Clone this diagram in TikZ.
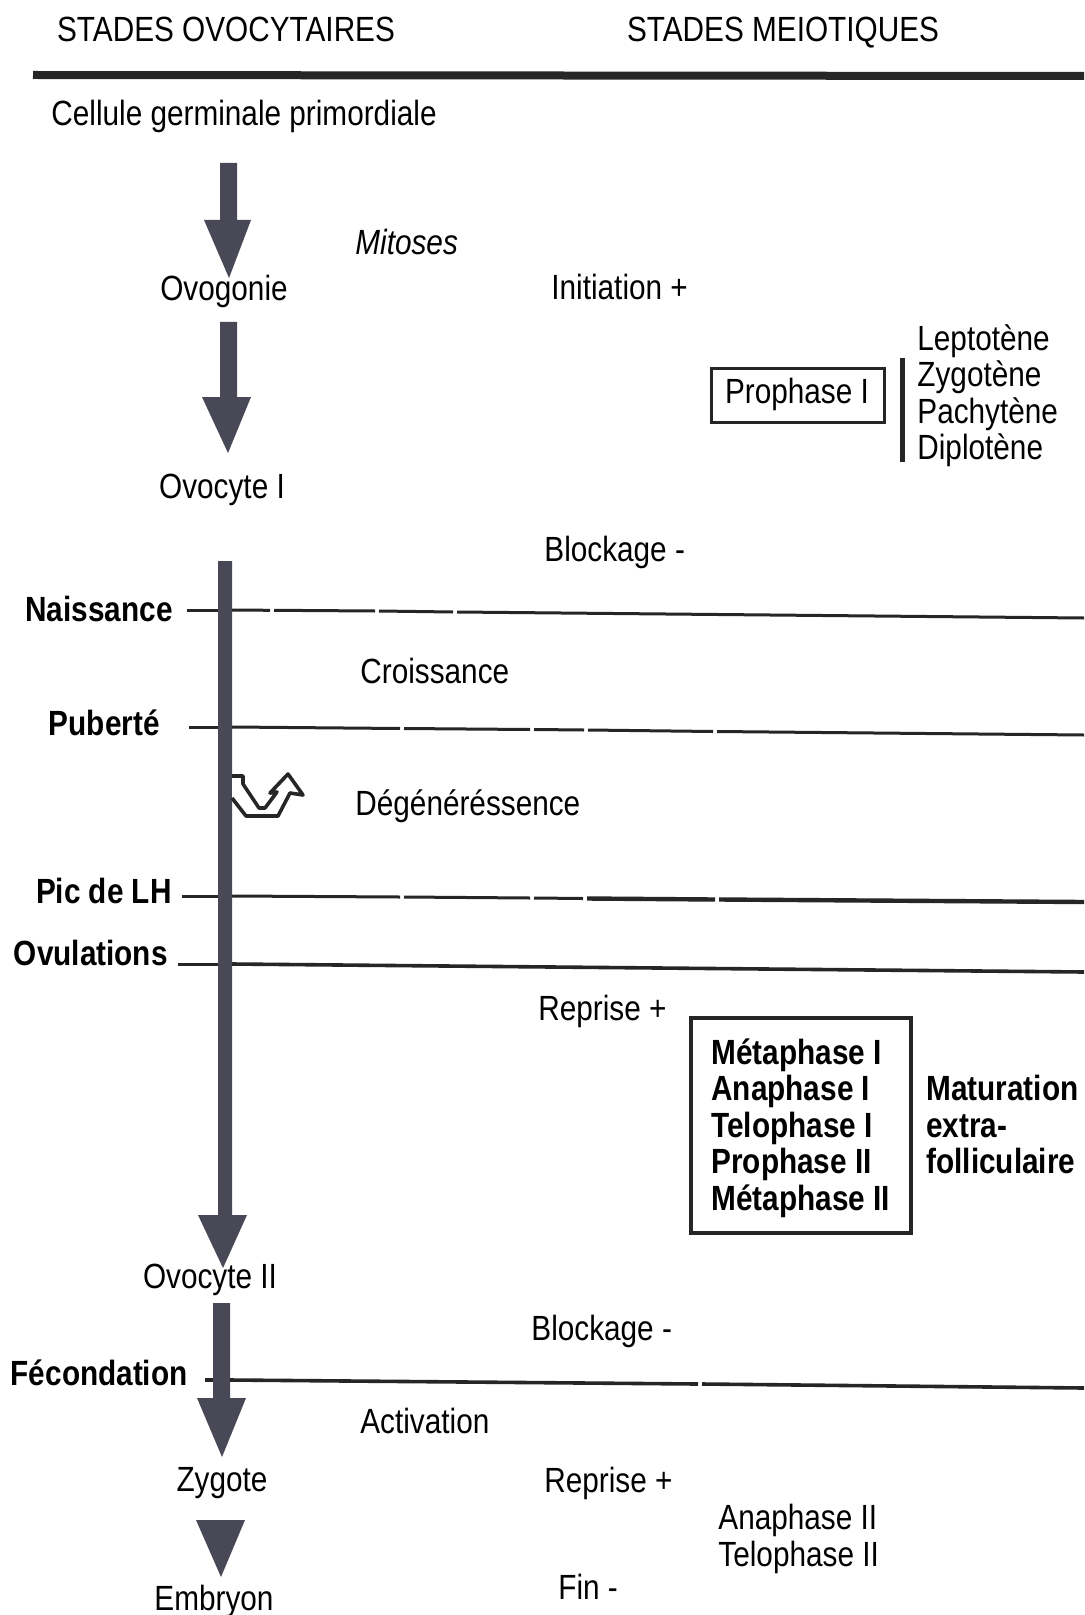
\documentclass[tikz,border=0pt]{standalone}
\usepackage{fontspec}
\setmainfont{Liberation Sans}[FakeStretch=0.85]
\begin{document}
\begin{tikzpicture}[x=0.5pt,y=-0.5pt,
  lab/.style={inner sep=0pt,font=\fontsize{17.5}{18.3}\selectfont},
  blab/.style={lab,font=\fontsize{17.5}{18.3}\selectfont\bfseries},
  tl/.style={line width=1.5pt,black!85},
  arr/.style={fill=arrowgray},
]
\definecolor{arrowgray}{RGB}{72,72,86}
\useasboundingbox (0,0) rectangle (1084,1615);
\fill[white] (0,0) rectangle (1084,1615);

% headers
\node[lab,anchor=mid] (h1) at (226,36) {STADES OVOCYTAIRES};
\node[lab,anchor=mid] (h2) at (783,36) {STADES MEIOTIQUES};
\draw[line width=4pt,black!85] (33,75) -- (1084,76);

% left column stages
\node[lab,anchor=mid west] (cgp) at (51,120) {Cellule germinale primordiale};
\node[lab,anchor=mid] (ovog) at (224,295) {Ovogonie};
\node[lab,anchor=mid] (ovo1) at (222,493) {Ovocyte I};
\node[lab,anchor=mid] (ovo2) at (210,1283) {Ovocyte II};
\node[lab,anchor=mid] (zyg) at (222,1486) {Zygote};
\node[lab,anchor=mid] (emb) at (214,1605) {Embryon};

% arrows
\fill[arr] (220,163) -- (237,163) -- (237,220) -- (251,220) -- (229,278) -- (204,220) -- (220,220) -- cycle;
\fill[arr] (220,322) -- (237,322) -- (237,397) -- (251,397) -- (228,453) -- (202,397) -- (220,397) -- cycle;
\fill[arr] (218,561) -- (232,561) -- (232,1215) -- (247,1215) -- (223,1268) -- (198,1215) -- (218,1215) -- cycle;
\fill[arr] (213,1303) -- (230,1303) -- (230,1398) -- (246,1398) -- (222,1457) -- (197,1398) -- (213,1398) -- cycle;
\fill[arr] (196,1520) -- (245,1520) -- (221,1577) -- cycle;

% timeline labels
\node[blab,anchor=mid east] (nai) at (173,616) {Naissance};
\node[blab,anchor=mid east] (pub) at (160,730) {Puberté};
\node[blab,anchor=mid east] (pic) at (172,898) {Pic de LH};
\node[blab,anchor=mid east] (ovu) at (168,960) {Ovulations};
\node[blab,anchor=mid east] (fec) at (188,1380) {Fécondation};

% timeline lines
\draw[tl] (187,610) -- (218,610);
\draw[tl] (232,610) -- (270,610.3);
\draw[tl] (274,610.3) -- (375,611);
\draw[tl] (379,611) -- (453,612);
\draw[tl] (457,612) -- (1084,618);

\draw[tl] (189,727) -- (218,727);
\draw[tl] (232,727) -- (400,728.5);
\draw[tl] (404,728.5) -- (530,729.5);
\draw[tl] (534,729.5) -- (584,730);
\draw[tl] (588,730) -- (713,731.5);
\draw[tl] (717,731.5) -- (1084,735);

\draw[tl] (182,896) -- (218,896);
\draw[tl] (232,896) -- (400,897);
\draw[tl] (404,897) -- (530,898);
\draw[tl] (534,898) -- (583,898.5);
\draw[tl,line width=2.2pt] (587,898.5) -- (715,899.5);
\draw[tl,line width=2.2pt] (719,899.5) -- (1084,902);

\draw[tl] (178,964) -- (218,964);
\draw[tl,line width=1.8pt] (232,964) -- (1084,972);

\draw[tl,line width=1.8pt] (205,1380) -- (213,1380);
\draw[tl,line width=1.8pt] (230,1380) -- (698,1384);
\draw[tl,line width=1.8pt] (702,1384) -- (1084,1388);

% degeneration symbol
\draw[line width=1.8pt,black!85,fill=white,line join=round]
  (232,776) -- (243,776) -- (243,784) -- (259,808) -- (265,808) -- (277,792)
  -- (270,793) -- (288,774) -- (303,795) -- (290,793) -- (278,816) -- (246,816) -- (232,798);

% middle texts
\node[lab,anchor=mid west,font=\fontsize{17.5}{18.3}\selectfont\itshape] (mit) at (355,249) {Mitoses};
\node[lab,anchor=mid west] (ini) at (551,294) {Initiation +};
\node[lab,anchor=mid west] (blo1) at (544,556) {Blockage -};
\node[lab,anchor=mid west] (cro) at (360,678) {Croissance};
\node[lab,anchor=mid west] (deg) at (355,810) {Dégénéréssence};
\node[lab,anchor=mid west] (rep1) at (538,1015) {Reprise +};
\node[lab,anchor=mid west] (blo2) at (531,1335) {Blockage -};
\node[lab,anchor=mid west] (act) at (360,1428) {Activation};
\node[lab,anchor=mid west] (rep2) at (544,1487) {Reprise +};
\node[lab,anchor=mid west] (fin) at (558,1594) {Fin -};

% prophase I
\draw[line width=1.5pt,black!85] (711,368) rectangle (884,422);
\node[lab,anchor=mid] (pro1) at (797,398) {Prophase I};
\draw[line width=2.5pt,black!85] (902,358) -- (902,462);
\node[lab,anchor=north west,align=left] (lep) at (917,324) {Leptotène\\Zygotène\\Pachytène\\Diplotène};

% metaphase box
\draw[line width=2pt,black!85] (691,1018) rectangle (911,1233);
\node[blab,anchor=north west,align=left] (met) at (711,1038) {Métaphase I\\Anaphase I\\Telophase I\\Prophase II\\Métaphase II};
\node[blab,anchor=north west,align=left] (mat) at (926,1075) {Maturation\\extra-\\folliculaire};

% final
\node[lab,anchor=north west,align=left] (ana2) at (718,1504) {Anaphase II\\Telophase II};
\end{tikzpicture}
\end{document}
